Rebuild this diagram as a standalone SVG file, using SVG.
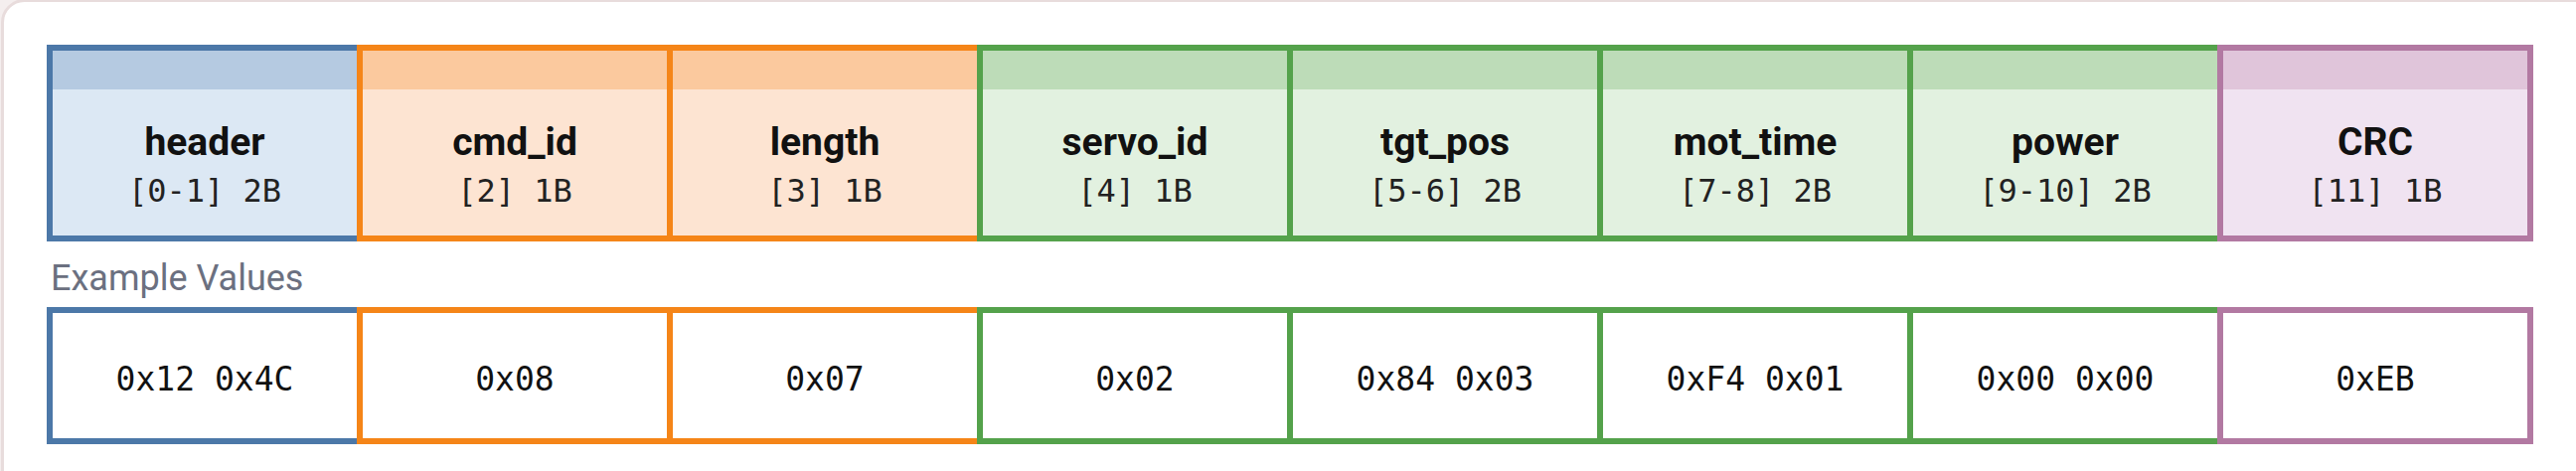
<svg xmlns="http://www.w3.org/2000/svg" width="2592" height="474" viewBox="0 0 2592 474">
<style>
.card{fill:#ffffff;stroke:#e8dcdc;stroke-width:3}
.box{stroke-width:6}
.t{font-family:Roboto,"Liberation Sans",sans-serif;font-weight:bold;font-size:39px;fill:#111111;text-anchor:middle}
.m{font-family:"DejaVu Sans Mono","Liberation Mono",monospace;font-size:32px;fill:#222222;text-anchor:middle}
.v{font-family:"DejaVu Sans Mono","Liberation Mono",monospace;font-size:33px;fill:#111111;text-anchor:middle}
.lbl{font-family:Roboto,"Liberation Sans",sans-serif;font-size:36px;fill:#6b7080}
.blue{stroke:#4c78a8}.orange{stroke:#f58518}.green{stroke:#54a24b}.purple{stroke:#b279a2}
.fb{fill:#dce8f4}.fo{fill:#fde4d2}.fg{fill:#e2f1e0}.fp{fill:#f0e3f1}
.bb{fill:#b5cae1}.bo{fill:#fbc99e}.bg{fill:#bddcb8}.bp{fill:#e0c5da}
.w{fill:#ffffff}
</style>
<rect x="0" y="0" width="2592" height="474" fill="#f4eeee"/>
<rect class="card" x="2.5" y="0.5" width="2700" height="600" rx="22"/>

<g id="field-header">
<rect class="fb" x="50" y="48" width="312" height="192"/>
<rect class="bb" x="50" y="48" width="312" height="42"/>
<rect class="box blue" x="50" y="48" width="312" height="192" fill="none"/>
<text class="t" x="206" y="156">header</text>
<text class="m" x="206" y="203">[0-1] 2B</text>
</g>
<g id="field-cmd_id">
<rect class="fo" x="362" y="48" width="312" height="192"/>
<rect class="bo" x="362" y="48" width="312" height="42"/>
<rect class="box orange" x="362" y="48" width="312" height="192" fill="none"/>
<text class="t" x="518" y="156">cmd_id</text>
<text class="m" x="518" y="203">[2] 1B</text>
</g>
<g id="field-length">
<rect class="fo" x="674" y="48" width="312" height="192"/>
<rect class="bo" x="674" y="48" width="312" height="42"/>
<rect class="box orange" x="674" y="48" width="312" height="192" fill="none"/>
<text class="t" x="830" y="156">length</text>
<text class="m" x="830" y="203">[3] 1B</text>
</g>
<g id="field-servo_id">
<rect class="fg" x="986" y="48" width="312" height="192"/>
<rect class="bg" x="986" y="48" width="312" height="42"/>
<rect class="box green" x="986" y="48" width="312" height="192" fill="none"/>
<text class="t" x="1142" y="156">servo_id</text>
<text class="m" x="1142" y="203">[4] 1B</text>
</g>
<g id="field-tgt_pos">
<rect class="fg" x="1298" y="48" width="312" height="192"/>
<rect class="bg" x="1298" y="48" width="312" height="42"/>
<rect class="box green" x="1298" y="48" width="312" height="192" fill="none"/>
<text class="t" x="1454" y="156">tgt_pos</text>
<text class="m" x="1454" y="203">[5-6] 2B</text>
</g>
<g id="field-mot_time">
<rect class="fg" x="1610" y="48" width="312" height="192"/>
<rect class="bg" x="1610" y="48" width="312" height="42"/>
<rect class="box green" x="1610" y="48" width="312" height="192" fill="none"/>
<text class="t" x="1766" y="156">mot_time</text>
<text class="m" x="1766" y="203">[7-8] 2B</text>
</g>
<g id="field-power">
<rect class="fg" x="1922" y="48" width="312" height="192"/>
<rect class="bg" x="1922" y="48" width="312" height="42"/>
<rect class="box green" x="1922" y="48" width="312" height="192" fill="none"/>
<text class="t" x="2078" y="156">power</text>
<text class="m" x="2078" y="203">[9-10] 2B</text>
</g>
<g id="field-crc">
<rect class="fp" x="2234" y="48" width="312" height="192"/>
<rect class="bp" x="2234" y="48" width="312" height="42"/>
<rect class="box purple" x="2234" y="48" width="312" height="192" fill="none"/>
<text class="t" x="2390" y="156">CRC</text>
<text class="m" x="2390" y="203">[11] 1B</text>
</g>

<text id="example-label" class="lbl" x="51" y="292">Example Values</text>

<g id="value-header"><rect class="box blue w" x="50" y="312" width="312" height="132"/><text class="v" x="206" y="393">0x12 0x4C</text></g>
<g id="value-cmd_id"><rect class="box orange w" x="362" y="312" width="312" height="132"/><text class="v" x="518" y="393">0x08</text></g>
<g id="value-length"><rect class="box orange w" x="674" y="312" width="312" height="132"/><text class="v" x="830" y="393">0x07</text></g>
<g id="value-servo_id"><rect class="box green w" x="986" y="312" width="312" height="132"/><text class="v" x="1142" y="393">0x02</text></g>
<g id="value-tgt_pos"><rect class="box green w" x="1298" y="312" width="312" height="132"/><text class="v" x="1454" y="393">0x84 0x03</text></g>
<g id="value-mot_time"><rect class="box green w" x="1610" y="312" width="312" height="132"/><text class="v" x="1766" y="393">0xF4 0x01</text></g>
<g id="value-power"><rect class="box green w" x="1922" y="312" width="312" height="132"/><text class="v" x="2078" y="393">0x00 0x00</text></g>
<g id="value-crc"><rect class="box purple w" x="2234" y="312" width="312" height="132"/><text class="v" x="2390" y="393">0xEB</text></g>

<g id="connectors"></g>
</svg>
